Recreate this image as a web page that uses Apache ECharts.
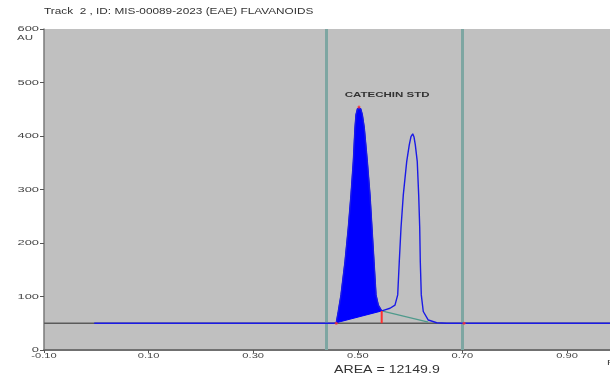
<!DOCTYPE html>
<html>
<head>
<meta charset="utf-8">
<script src="https://cdn.jsdelivr.net/npm/echarts@6/dist/echarts.min.js"></script>
<style>
  html, body { margin: 0; padding: 0; background: #ffffff; }
  #chart { width: 610px; height: 379px; }
</style>
</head>
<body>
<div id="chart"></div>
<script>
// ---- data ----
const titleText = 'Track  2 , ID: MIS-00089-2023 (EAE) FLAVANOIDS';
const peakLabel = 'CATECHIN STD';
const areaText = 'AREA = 12149.9';
const yUnit = 'AU';
const xUnit = 'Rf';
const xTicks = [-0.10, 0.10, 0.30, 0.50, 0.70, 0.90];
const yTicks = [0, 100, 200, 300, 400, 500, 600];

// densitometric trace (Rf, AU)
const traceX = [-0.004, 0.455, 0.4589, 0.4627, 0.4679, 0.4755, 0.4818, 0.4870, 0.4914, 0.4946, 0.4966, 0.4994,
                0.5023, 0.5055, 0.5086, 0.5124, 0.5182, 0.5233, 0.5271, 0.5310, 0.5348, 0.5392, 0.5457,
                0.5520, 0.5616, 0.5711, 0.5763, 0.5793, 0.5826, 0.5870, 0.5935, 0.5985, 0.6017, 0.6050,
                0.6075, 0.6099, 0.6137, 0.6164, 0.6184, 0.6195, 0.6214, 0.6252, 0.6348, 0.6509, 0.6700,
                1.000];
const traceY = [50, 50, 51, 72, 103, 165, 228, 290, 352, 415, 440, 451,
                454, 451, 440, 415, 352, 290, 228, 165, 103, 84, 73,
                75, 78, 84, 103, 165, 228, 290, 352, 384, 399, 404,
                398, 384, 352, 290, 228, 165, 103, 72, 56, 51, 50,
                50];

// integrated peak (catechin) limits
const peakStart = 0.4589;
const peakEnd = 0.5457;

// baselines
const baselineX = [-0.10, 1.00];
const baselineY = [50, 50];
const skimX = [0.5457, 0.6348];
const skimY = [73, 52];
const dropX = [0.5457, 0.5457];
const dropY = [50, 73];

// front / application markers
const vLines = [0.4392, 0.7031];
const redDotsX = [0.4589, 0.5023, 0.7031];
const redDotsY = [50, 454, 50];
const labelPos = [0.556, 477];

// ---- build ----
const fillX = [], fillY = [];
traceX.forEach((x, i) => { if (x >= peakStart && x <= peakEnd) { fillX.push(x); fillY.push(traceY[i]); } });

const zip = (a, b) => a.map((v, i) => [v, b[i]]);
const font = 'Liberation Sans, Arial, sans-serif';
const txtColor = '#454545';

const chart = echarts.init(document.getElementById('chart'), null, { renderer: 'canvas' });
chart.setOption({
  animation: false,
  backgroundColor: '#ffffff',
  grid: {
    left: 44, top: 29, width: 575.3, height: 321,
    show: true, backgroundColor: '#c0c0c0', borderWidth: 0,
    containLabel: false, outerBoundsMode: 'none'
  },
  xAxis: {
    type: 'value', min: -0.10, max: 1.00,
    axisLine: { show: true, onZero: false, lineStyle: { color: '#707070', width: 2 } },
    axisTick: { show: true, length: 3, customValues: xTicks, lineStyle: { color: '#555' } },
    axisLabel: { show: false },
    splitLine: { show: false }
  },
  yAxis: {
    type: 'value', min: 0, max: 600, interval: 100,
    axisLine: { show: true, onZero: false, lineStyle: { color: '#7a7a7a', width: 1.5 } },
    axisTick: { show: true, length: 4, lineStyle: { color: '#555' } },
    axisLabel: { show: false },
    splitLine: { show: false }
  },
  graphic: [
    { type: 'text', x: 44, y: 11.5, scaleX: 1.27,
      style: { text: titleText, font: '9.3px ' + font, fill: '#333', verticalAlign: 'middle' } },
    { type: 'text', x: 17, y: 38, scaleX: 1.65,
      style: { text: yUnit, font: '7px ' + font, fill: txtColor, verticalAlign: 'middle' } },
    { type: 'text', x: 334, y: 370, scaleX: 1.23,
      style: { text: areaText, font: '11.5px ' + font, fill: '#333', verticalAlign: 'middle' } },
    { type: 'text', x: 607, y: 363, scaleX: 1.4,
      style: { text: xUnit, font: '8px ' + font, fill: txtColor, verticalAlign: 'middle' } }
  ],
  series: [
    {
      type: 'line', data: zip(baselineX, baselineY), symbol: 'none', silent: true,
      lineStyle: { color: '#5a5a5a', width: 1.5 }, z: 2,
      markLine: {
        symbol: 'none', silent: true, label: { show: false },
        lineStyle: { color: '#7ea6a2', width: 3, type: 'solid' },
        data: vLines.map(v => ({ xAxis: v }))
      }
    },
    {
      type: 'custom', z: 3, silent: true,
      data: [[fillX[0], fillY[0]]],
      renderItem: (params, api) => {
        const pts = fillX.map((x, i) => api.coord([x, fillY[i]]));
        return { type: 'polygon', shape: { points: pts }, style: { fill: '#0000ff', stroke: '#0000ff', lineWidth: 1 } };
      }
    },
    {
      type: 'line', data: zip(skimX, skimY), symbol: 'none', silent: true, z: 4,
      lineStyle: { color: '#4f9a8c', width: 1.2 }
    },
    {
      type: 'line', data: zip(traceX, traceY), symbol: 'none', silent: true, z: 5,
      lineStyle: { color: '#1a1ae6', width: 1.4 }
    },
    {
      type: 'line', data: zip(dropX, dropY), symbol: 'none', silent: true, z: 6,
      lineStyle: { color: '#ff3030', width: 2 }
    },
    {
      type: 'scatter', data: zip(redDotsX, redDotsY), symbolSize: 3, silent: true, z: 7,
      itemStyle: { color: '#ff3030' }
    },
    // peak label
    {
      type: 'custom', z: 8, silent: true, clip: false,
      data: [labelPos],
      renderItem: (params, api) => {
        const p = api.coord([api.value(0), api.value(1)]);
        return { type: 'text', x: p[0], y: p[1], scaleX: 1.44,
          style: { text: peakLabel, font: 'bold 8px ' + font, fill: '#333', align: 'center', verticalAlign: 'middle' } };
      }
    },
    // x tick labels
    {
      type: 'custom', z: 8, silent: true, clip: false,
      data: xTicks.map(v => [v, 0]),
      renderItem: (params, api) => {
        const v = api.value(0);
        const p = api.coord([v, 0]);
        return { type: 'text', x: p[0], y: p[1] + 5.5, scaleX: 1.45,
          style: { text: v.toFixed(2), font: '7.7px ' + font, fill: txtColor, align: 'center', verticalAlign: 'middle' } };
      }
    },
    // y tick labels
    {
      type: 'custom', z: 8, silent: true, clip: false,
      data: yTicks.map(v => [-0.10, v]),
      renderItem: (params, api) => {
        const v = api.value(1);
        const p = api.coord([-0.10, v]);
        return { type: 'text', x: p[0] - 5, y: p[1], scaleX: 1.72,
          style: { text: String(v), font: '7.5px ' + font, fill: txtColor, align: 'right', verticalAlign: 'middle' } };
      }
    }
  ]
});
</script>
</body>
</html>
